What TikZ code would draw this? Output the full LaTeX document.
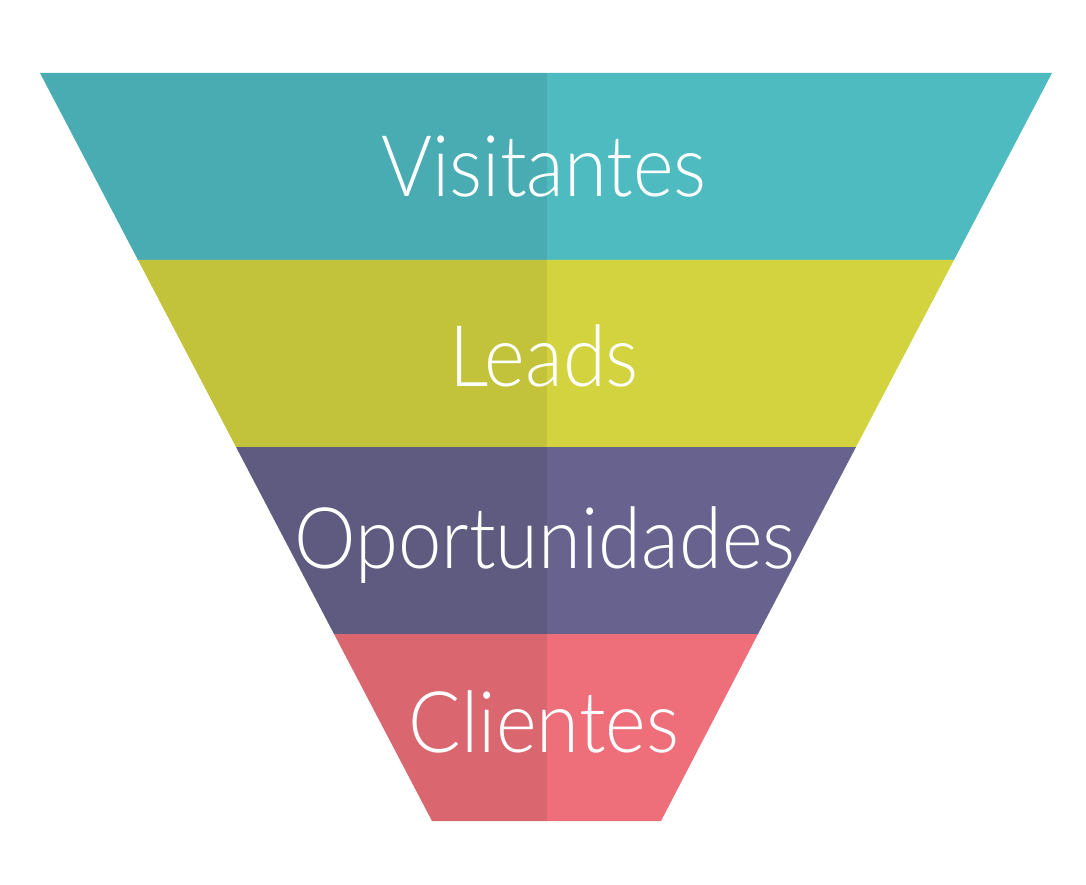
\documentclass[tikz,border=0pt]{standalone}
\usepackage{fontspec}
\setmainfont{Lato}[UprightFont=* Light, FakeStretch=0.915]
\usepackage{tikz}
\definecolor{funTealL}{HTML}{48ACB2}
\definecolor{funTealR}{HTML}{4EBBC0}
\definecolor{funLimeL}{HTML}{C2C23B}
\definecolor{funLimeR}{HTML}{D2D33E}
\definecolor{funPlumL}{HTML}{5E5A80}
\definecolor{funPlumR}{HTML}{68638E}
\definecolor{funRoseL}{HTML}{DA6670}
\definecolor{funRoseR}{HTML}{EE6F7A}

\begin{document}
\begin{tikzpicture}[x=1pt, y=-1pt,
  stagelabel/.style={white, font=\fontsize{85}{90}\selectfont,
    text height=62pt, text depth=0pt, inner sep=0pt}]

\useasboundingbox (0,0) rectangle (1086,885);

% Bands: {top / bottom / left-top / left-bottom / right-top / right-bottom / colours}
% Band 1 (top)
\fill[funTealL] (40,73) -- (547,73) -- (547,260) -- (138,260) -- cycle;
\fill[funTealR] (547,73) -- (1052,73) -- (954,260) -- (547,260) -- cycle;
\node[stagelabel] (visitantes) at (544,166) {Visitantes};

% Band 2
\fill[funLimeL] (138,260) -- (547,260) -- (547,447) -- (236,447) -- cycle;
\fill[funLimeR] (547,260) -- (954,260) -- (856,447) -- (547,447) -- cycle;
\node[stagelabel] (leads) at (544,355) {Leads};

% Band 3
\fill[funPlumL] (236,447) -- (547,447) -- (547,634) -- (334,634) -- cycle;
\fill[funPlumR] (547,447) -- (856,447) -- (758,634) -- (547,634) -- cycle;
\node[stagelabel] (oportunidades) at (545,537) {Oportunidades};

% Band 4 (bottom)
\fill[funRoseL] (334,634) -- (547,634) -- (547,821) -- (432,821) -- cycle;
\fill[funRoseR] (547,634) -- (758,634) -- (661,821) -- (547,821) -- cycle;
\node[stagelabel] (clientes) at (544,721) {Clientes};

\end{tikzpicture}
\end{document}
